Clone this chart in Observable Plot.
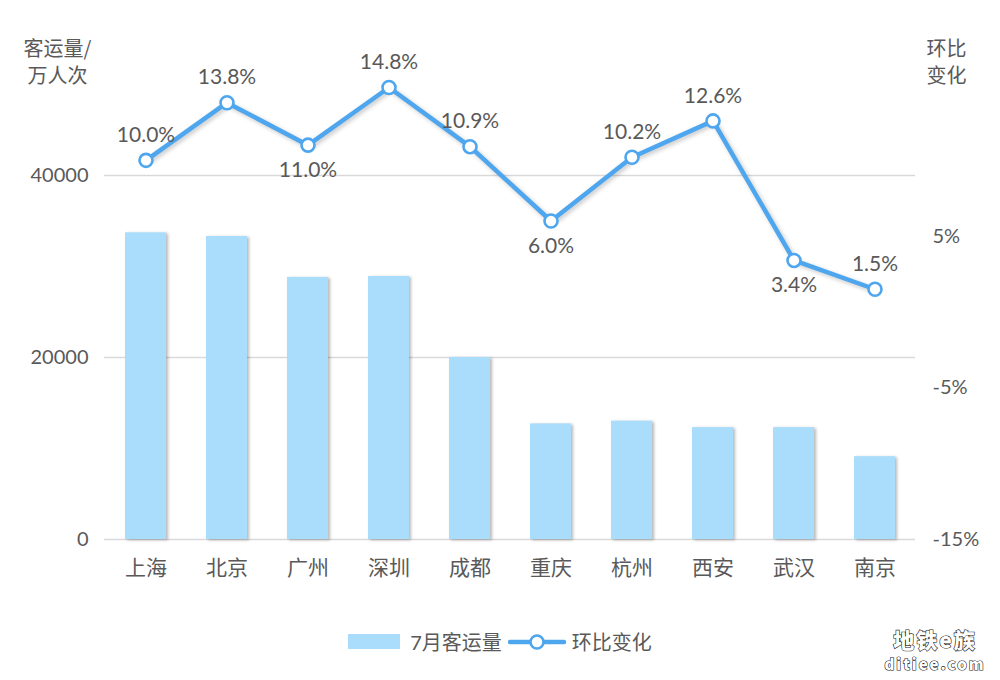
<!DOCTYPE html>
<html><head><meta charset="utf-8">
<script src="https://cdn.jsdelivr.net/npm/d3@7"></script>
<script src="https://cdn.jsdelivr.net/npm/@observablehq/plot@0.6"></script>
<style>
body{margin:0;background:#fff;font-family:Lato,"Noto Sans CJK SC",sans-serif;color:#595959;}
#wrap{position:relative;width:1000px;height:680px;overflow:hidden;}
#chart svg{display:block;}
g[aria-label="bar"]{filter:drop-shadow(2px 1px 1.5px rgba(0,0,0,0.28));}
g[aria-label="line"]{filter:drop-shadow(2px 2px 2px rgba(0,0,0,0.22));}
#legend{position:absolute;left:0;top:627px;width:1000px;display:flex;justify-content:center;align-items:center;font-size:20px;color:#595959;font-family:Lato,"Noto Sans CJK SC",sans-serif;}
#legend .box{width:52px;height:15px;background:#a9ddfb;margin-right:10px;}
#legend .sep{margin-left:6px;margin-right:6px;display:block;}
#wm{position:absolute;left:876px;top:627px;width:118px;text-align:center;font-family:"Noto Sans CJK SC",sans-serif;font-weight:900;color:#fff;-webkit-text-stroke:1.2px #222;paint-order:stroke fill;}
#wm .a{font-size:21px;line-height:24px;height:24px;letter-spacing:2px;}
#wm .b{font-size:15px;line-height:16px;height:16px;letter-spacing:2px;margin-top:5px;}
</style>
</head><body>
<div id="wrap">
<div id="chart"></div>
<div id="legend"></div>
<div id="wm"><div class="a">地铁e族</div><div class="b">ditiee.com</div></div>
</div>
<script>
const cities = ["上海","北京","广州","深圳","成都","重庆","杭州","西安","武汉","南京"];
const ridership = [33700,33300,28800,28900,20000,12700,13000,12300,12300,9100];
const change = [10.0,13.8,11.0,14.8,10.9,6.0,10.2,12.6,3.4,1.5];
const labelSide = ["top","top","bottom","top","top","bottom","top","top","bottom","top"];
const leftTicks = [0,20000,40000];
const rightTicks = [-15,-5,5];
const leftDomain = [0,50000];
const rightDomain = [-15,15];
const seriesNames = ["7月客运量","环比变化"];
const leftTitle = "客运量/\n万人次";
const rightTitle = "环比\n变化";

const toLeft = p => (p - rightDomain[0]) / (rightDomain[1]-rightDomain[0]) * (leftDomain[1]-leftDomain[0]) + leftDomain[0];
const fromLeft = v => (v - leftDomain[0]) / (leftDomain[1]-leftDomain[0]) * (rightDomain[1]-rightDomain[0]) + rightDomain[0];

const data = cities.map((c,i)=>({city:c, value:ridership[i], change:change[i], side:labelSide[i]}));
const barColor = "#a9ddfb", lineColor = "#4ea6ee", textColor = "#595959";
const font = 'Lato,"Noto Sans CJK SC",sans-serif';

const chart = Plot.plot({
  width:1000, height:600,
  marginTop:84, marginBottom:61, marginLeft:104, marginRight:85,
  style:{fontFamily:font, fontSize:"18px", color:textColor, background:"transparent", overflow:"visible"},
  x:{domain:cities, paddingInner:0.5, paddingOuter:0.25, label:null},
  y:{domain:leftDomain, label:null},
  marks:[
    Plot.gridY(leftTicks, {stroke:"#d9d9d9", strokeOpacity:1, strokeWidth:1.6}),
    Plot.barY(data, {x:"city", y:"value", fill:barColor}),
    Plot.axisY(leftTicks, {anchor:"left", tickSize:0, tickPadding:16, fontSize:20, fill:textColor, tickFormat:d=>String(d), label:null}),
    Plot.axisY(rightTicks.map(toLeft), {anchor:"right", tickSize:0, tickPadding:17, fontSize:20, fill:textColor, tickFormat:v=>Math.round(fromLeft(v))+"%", label:null}),
    Plot.axisX({tickSize:0, tickPadding:21, fontSize:21, fill:textColor, fontFamily:'"Noto Sans CJK SC",sans-serif', label:null}),
    Plot.lineY(data, {x:"city", y:d=>toLeft(d.change), stroke:lineColor, strokeWidth:4.5, strokeLinejoin:"round"}),
    Plot.dot(data, {x:"city", y:d=>toLeft(d.change), r:6.5, fill:"white", stroke:lineColor, strokeWidth:2.6}),
    Plot.text(data.filter(d=>d.side==="top"), {x:"city", y:d=>toLeft(d.change), text:d=>d.change.toFixed(1)+"%", dy:-25, fontSize:21, fill:textColor}),
    Plot.text(data.filter(d=>d.side==="bottom"), {x:"city", y:d=>toLeft(d.change), text:d=>d.change.toFixed(1)+"%", dy:25, fontSize:21, fill:textColor}),
    Plot.text([leftTitle], {frameAnchor:"top-left", text:d=>d, dx:-47, dy:-48, lineAnchor:"top", textAnchor:"middle", lineHeight:1.35, fontSize:20, fill:textColor, fontFamily:'"Noto Sans CJK SC",sans-serif'}),
    Plot.text([rightTitle], {frameAnchor:"top-right", text:d=>d, dx:31, dy:-48, lineAnchor:"top", textAnchor:"middle", lineHeight:1.35, fontSize:20, fill:textColor, fontFamily:'"Noto Sans CJK SC",sans-serif'})
  ]
});
document.getElementById("chart").appendChild(chart);

const lg = document.getElementById("legend");
lg.innerHTML = `<span class="box"></span><span>${seriesNames[0]}</span>
<svg class="sep" width="58" height="18"><line x1="2" y1="9" x2="56" y2="9" stroke="${lineColor}" stroke-width="4.5" stroke-linecap="round"/><circle cx="29" cy="9" r="6.5" fill="white" stroke="${lineColor}" stroke-width="2.6"/></svg><span>${seriesNames[1]}</span>`;
</script>
</body></html>
